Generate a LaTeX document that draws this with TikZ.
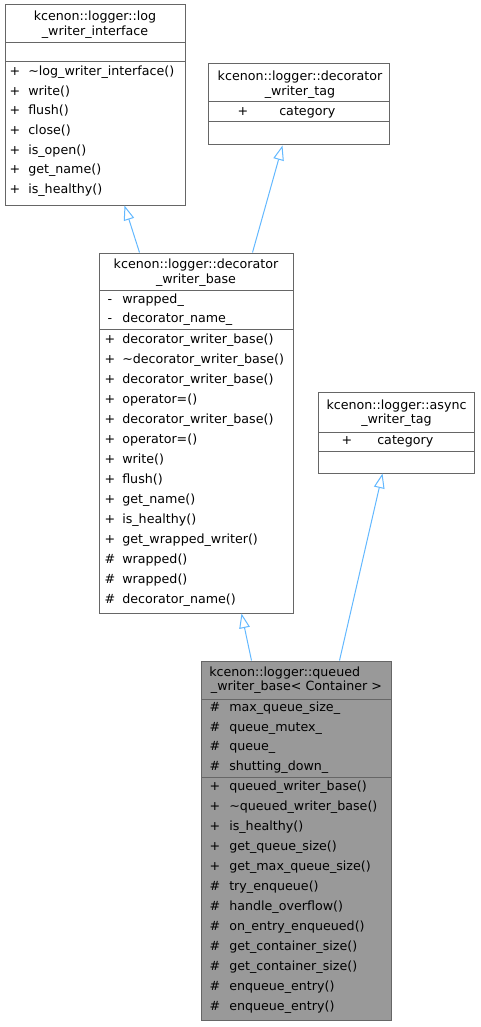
\documentclass[tikz,border=0pt]{standalone}
\usepackage{fontspec}
\setmainfont{DejaVu Sans}
\usetikzlibrary{arrows.meta,calc,fit}
\definecolor{boxgray}{HTML}{666666}
\definecolor{fillgray}{HTML}{999999}
\definecolor{arrowblue}{HTML}{63B8FF}
\begin{document}
\begin{tikzpicture}[x=0.75pt,y=-0.75pt,
  box/.style={draw=boxgray, fill=white, inner sep=0pt, line width=0.75pt},
  gbox/.style={box, fill=fillgray},
  sep/.style={draw=boxgray, line width=0.75pt},
  txt/.style={inner sep=0pt, font=\fontsize{9.5pt}{11pt}\selectfont, text=black},
  ttl/.style={txt, anchor=mid},
  mem/.style={txt, anchor=mid west},
  vis/.style={txt, anchor=mid},
  inh/.style={draw=arrowblue, line width=0.75pt, -{Triangle[open, length=11pt, width=8pt]}}
]
\useasboundingbox (0,0) rectangle (480,1027);

% ---------- box 1: log_writer_interface
\node[box, fit={(5,5) (185,205)}] (b1) {};
\node[ttl] (b1t1) at (95,17) {kcenon::logger::log};
\node[ttl] (b1t2) at (95,32) {\_writer\_interface};
\draw[sep] (5,43) -- (185,43);
\draw[sep] (5,62) -- (185,62);
\foreach [count=\k from 0] \t in {\textasciitilde log\_writer\_interface(), write(), flush(), close(), is\_open(), get\_name(), is\_healthy()} {
  \node[vis] (b1v\k) at (15,72+19.67*\k) {+};
  \node[mem] (b1m\k) at (28,72+19.67*\k) {\t};
}

% ---------- box 2: decorator_writer_tag
\node[box, fit={(208,64) (389,145)}] (b2) {};
\node[ttl] (b2t1) at (300,77) {kcenon::logger::decorator};
\node[ttl] (b2t2) at (300,92) {\_writer\_tag};
\draw[sep] (208,102) -- (389,102);
\node[vis] (b2v0) at (243,112) {+};
\node[mem] (b2m0) at (279,112) {category};
\draw[sep] (208,122) -- (389,122);

% ---------- box 3: decorator_writer_base
\node[box, fit={(99,253) (293,613)}] (b3) {};
\node[ttl] (b3t1) at (196,265) {kcenon::logger::decorator};
\node[ttl] (b3t2) at (196,280) {\_writer\_base};
\draw[sep] (99,290) -- (293,290);
\node[vis] (b3a0v) at (110,299.5) {-};
\node[mem] (b3a0) at (122,299.5) {wrapped\_};
\node[vis] (b3a1v) at (110,319) {-};
\node[mem] (b3a1) at (122,319) {decorator\_name\_};
\draw[sep] (99,329) -- (293,329);
\foreach [count=\k from 0] \s/\t in {+/decorator\_writer\_base(), +/\textasciitilde decorator\_writer\_base(), +/decorator\_writer\_base(), +/operator=(), +/decorator\_writer\_base(), +/operator=(), +/write(), +/flush(), +/get\_name(), +/is\_healthy(), +/get\_wrapped\_writer(), \#/wrapped(), \#/wrapped(), \#/decorator\_name()} {
  \node[vis] (b3v\k) at (110,340+20*\k) {\s};
  \node[mem] (b3m\k) at (122,340+20*\k) {\t};
}

% ---------- box 4: async_writer_tag
\node[box, fit={(318,392) (474,473)}] (b4) {};
\node[ttl] (b4t1) at (396.5,405.5) {kcenon::logger::async};
\node[ttl] (b4t2) at (396.5,420) {\_writer\_tag};
\draw[sep] (318,432) -- (474,432);
\node[vis] (b4v0) at (347,441) {+};
\node[mem] (b4m0) at (377,441) {category};
\draw[sep] (318,451) -- (474,451);

% ---------- box 5: queued_writer_base
\node[gbox, fit={(201,661) (391,1020)}] (b5) {};
\node[mem] (b5t1) at (209,673) {kcenon::logger::queued};
\node[ttl] (b5t2) at (296.5,687) {\_writer\_base< Container >};
\draw[sep] (201,699) -- (391,699);
\foreach [count=\k from 0] \t in {max\_queue\_size\_, queue\_mutex\_, queue\_, shutting\_down\_} {
  \node[vis] (b5av\k) at (215,708+19.67*\k) {\#};
  \node[mem] (b5a\k) at (229,708+19.67*\k) {\t};
}
\draw[sep] (201,777) -- (391,777);
\foreach [count=\k from 0] \s/\t in {+/queued\_writer\_base(), +/\textasciitilde queued\_writer\_base(), +/is\_healthy(), +/get\_queue\_size(), +/get\_max\_queue\_size(), \#/try\_enqueue(), \#/handle\_overflow(), \#/on\_entry\_enqueued(), \#/get\_container\_size(), \#/get\_container\_size(), \#/enqueue\_entry(), \#/enqueue\_entry()} {
  \node[vis] (b5v\k) at (215,787+20*\k) {\s};
  \node[mem] (b5m\k) at (229,787+20*\k) {\t};
}

% ---------- inheritance connectors
\draw[inh] ($(b3.north west)+(41,0)$) -- ($(b1.south west)+(120,0)$);
\draw[inh] ($(b3.north west)+(154,0)$) -- ($(b2.south west)+(75,0)$);
\draw[inh] ($(b5.north west)+(51,0)$) -- ($(b3.south west)+(143,0)$);
\draw[inh] ($(b5.north west)+(139,0)$) -- ($(b4.south west)+(65,0)$);
\end{tikzpicture}
\end{document}
